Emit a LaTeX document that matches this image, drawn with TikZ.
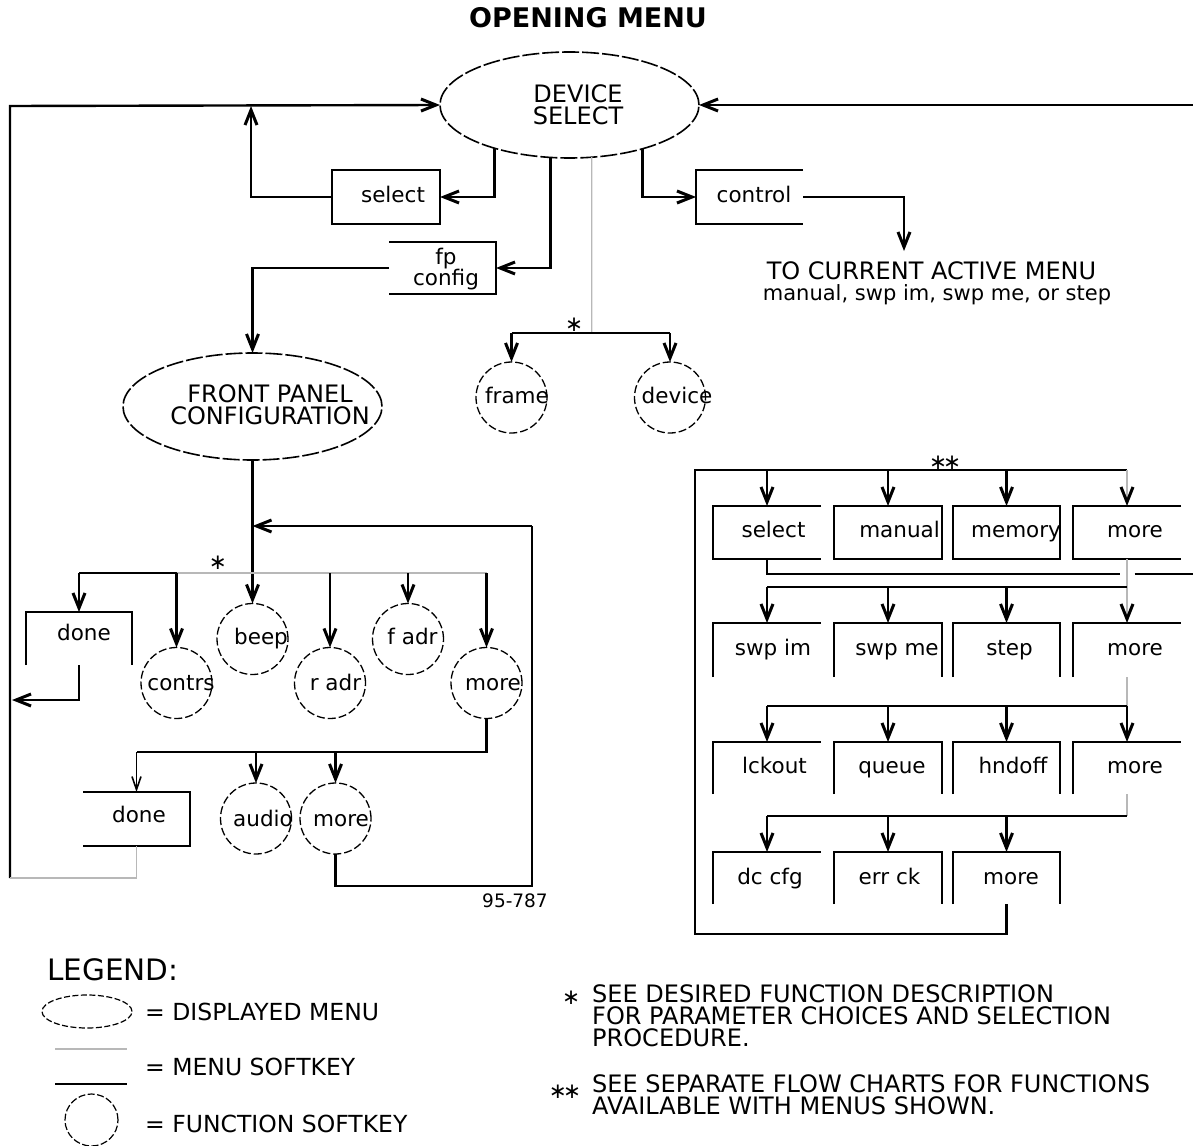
\documentclass[tikz,border=0pt]{standalone}
\usepackage{fontspec}
\setmainfont{DejaVu Sans}
\usetikzlibrary{arrows.meta,shapes.geometric}

% box outlines with some sides left open
\newcommand\edgesF[1]{\draw[ln] (#1.north west) rectangle (#1.south east);}
\newcommand\edgesR[1]{\draw[ln] (#1.north east) -- (#1.north west) -- (#1.south west) -- (#1.south east);}
\newcommand\edgesL[1]{\draw[ln] (#1.north west) -- (#1.north east) -- (#1.south east) -- (#1.south west);}
\newcommand\edgesB[1]{\draw[ln] (#1.south west) -- (#1.north west) -- (#1.north east) -- (#1.south east);}
\newcommand\edgesTL[1]{\draw[ln] (#1.south west) -- (#1.north west) -- (#1.north east);}

\tikzset{
  ln/.style={line width=2.4pt, black},
  gln/.style={line width=1.2pt, black!28},
  arr/.style={ln, -{Straight Barb[length=15pt,width=12pt,line width=3pt]}},
  garr/.style={gln, -{Straight Barb[length=15pt,width=12pt,line width=3pt,color=black]}},
  tarr/.style={line width=1.3pt, black, -{Straight Barb[length=13pt,width=9pt,line width=1.6pt]}},
  menu/.style={ellipse, draw, line width=1.6pt, dash pattern=on 17pt off 3pt, inner sep=0pt, outer sep=0pt},
  fkey/.style={circle, draw, line width=1.3pt, dash pattern=on 8pt off 3pt, minimum size=71pt, inner sep=0pt, outer sep=0pt},
  skey/.style={rectangle, draw=none, inner sep=0pt, outer sep=0pt, minimum width=108pt, minimum height=53pt},
  lbl/.style={font=\fontsize{21.5}{24}\selectfont, inner sep=0pt, anchor=base},
  astx/.style={font=\fontsize{21.5}{24}\selectfont, inner sep=0pt},
  caps/.style={font=\fontsize{24}{22}\selectfont, align=center, inner sep=0pt},
  note/.style={font=\fontsize{24}{22}\selectfont, align=left, inner sep=0pt, anchor=west},
  legtext/.style={font=\fontsize{23.5}{24}\selectfont, inner sep=0pt, anchor=base west},
}

\begin{document}
\begin{tikzpicture}[x=1pt, y=-1pt]
\useasboundingbox (0,0) rectangle (1193,1145);

% ---------- opening menu ----------
\node[font=\fontsize{27}{30}\selectfont\bfseries, inner sep=0pt, anchor=base] (title) at (588,28) {OPENING MENU};

\node[menu, minimum width=259pt, minimum height=106pt] (ds) at (569.5,105) {};
\node[caps] (dsT) at (578,105) {DEVICE\\SELECT};

\node[skey, minimum height=54pt] (sel) at (386,197) {};
\node[lbl] (selT) at (393,202) {select};
\edgesF{sel}

\node[skey, minimum width=107pt, minimum height=52pt] (fp) at (442.5,268) {};
\node[caps, font=\fontsize{21.5}{21.5}\selectfont] (fpT) at (446,269) {fp\\config};
\edgesL{fp}

\node[skey, minimum width=107pt, minimum height=54pt] (ctl) at (749.5,197) {};
\node[lbl] (ctlT) at (754,202) {control};
\edgesR{ctl}

\coordinate (ctlend) at (904,251);
\node[font=\fontsize{24}{26}\selectfont, inner sep=0pt, anchor=base] (tcam) at (931.5,279) {TO CURRENT ACTIVE MENU};
\node[font=\fontsize{21}{24}\selectfont, inner sep=0pt, anchor=base] (tcam2) at (937,300) {manual, swp im, swp me, or step};

\coordinate (lt) at (10,106);
\coordinate (lb) at (10,878);
\coordinate (rt) at (1193,105);
\coordinate (upj) at (251,106);
\coordinate (fstar) at (591.7,333);

\node[fkey] (frame) at (511.5,397.5) {};
\node[lbl] (frameT) at (517,403) {frame};
\node[fkey] (device) at (670,397.5) {};
\node[lbl] (deviceT) at (677,403) {device};
\node[astx] (star1) at (574,325) {∗};

\draw[arr] (lb) -- (lt) -- (ds.west);
\draw[arr] (rt) -- (ds.east);
\draw[arr] (ds.210) |- (sel.east);
\draw[arr] (sel.west) -| (upj);
\draw[arr] (ds.250) |- (fp.east);
\draw[arr] (ds.329) |- (ctl.west);
\draw[arr] (ctl.east) -| (ctlend);
\draw[gln] (ds.293) -- (fstar);
\draw[ln] (frame.north |- fstar) -- (device.north |- fstar);
\draw[arr] (frame.north |- fstar) -- (frame.north);
\draw[arr] (device.north |- fstar) -- (device.north);

% ---------- front panel configuration ----------
\node[menu, minimum width=259pt, minimum height=107pt] (fpc) at (252.5,406.5) {};
\node[caps] (fpcT) at (270,405) {FRONT PANEL\\CONFIGURATION};
\draw[arr] (fp.west) -| (fpc.north);

\coordinate (bus2) at (0,573);
\coordinate (lret) at (12,700);
\coordinate (b3w) at (136.5,752);
\coordinate (rlb) at (532,886);
\coordinate (rlt) at (532,526);

\node[skey, minimum width=106pt] (done1) at (79,638.5) {};
\node[lbl] (done1T) at (84,640) {done};
\edgesB{done1}

\node[fkey] (contrs) at (176.5,683) {};
\node[lbl] (contrsT) at (181,690) {contrs};
\node[fkey] (beep) at (252.5,639) {};
\node[lbl] (beepT) at (261,644) {beep};
\node[fkey] (radr) at (330,683) {};
\node[lbl] (radrT) at (335.5,690) {r adr};
\node[fkey] (fadr) at (408,639) {};
\node[lbl] (fadrT) at (412.5,644) {f adr};
\node[fkey] (more1) at (486.5,683) {};
\node[lbl] (more1T) at (493,690) {more};
\node[astx] (star2) at (218,563) {∗};

\node[skey, minimum width=107pt, minimum height=54pt] (done2) at (136.5,819) {};
\node[lbl] (done2T) at (139,822) {done};
\edgesL{done2}
\node[fkey] (audio) at (256,818.5) {};
\node[lbl] (audioT) at (263,826) {audio};
\node[fkey] (more2) at (335.5,818.5) {};
\node[lbl] (more2T) at (341,826) {more};

\node[font=\fontsize{18.5}{20}\selectfont, inner sep=0pt, anchor=base] (fignum) at (515,907) {95-787};

\draw[arr] (fpc.south) -- (beep.north);
\draw[ln] (more2.south) |- (rlb) -- (rlt);
\draw[arr] (rlt) -- (rlt -| fpc.south);
\draw[ln] (done1.north |- bus2) -- (contrs.north |- bus2);
\draw[gln] (contrs.north |- bus2) -- (more1.north |- bus2);
\draw[arr] (done1.north |- bus2) -- (done1.north);
\draw[arr] (contrs.north |- bus2) -- (contrs.north);
\draw[arr] (radr.north |- bus2) -- (radr.north);
\draw[arr] (fadr.north |- bus2) -- (fadr.north);
\draw[arr] (more1.north |- bus2) -- (more1.north);
\draw[arr] (done1.south) |- (lret);
\draw[ln] (more1.south) |- (b3w);
\draw[tarr] (b3w) -- (done2.north);
\draw[arr] (audio.north |- b3w) -- (audio.north);
\draw[arr] (more2.north |- b3w) -- (more2.north);
\draw[gln] (done2.south) |- (lb);

% ---------- menu chain on the right ----------
\coordinate (gtl) at (695,470);
\coordinate (gbl) at (695,934);
\coordinate (gb2) at (0,587);
\coordinate (gb3) at (0,706);
\coordinate (gb4) at (0,816);
\coordinate (rlA) at (1119.5,574);
\coordinate (rlB) at (1134.5,574);
\coordinate (rlE) at (1193,574);

\node[skey] (g11) at (767,532.5) {};
\node[skey] (g12) at (888,532.5) {};
\node[skey, minimum width=107pt] (g13) at (1006.5,532.5) {};
\node[skey] (g14) at (1127,532.5) {};
\node[lbl] (g11T) at (773.5,537) {select};
\node[lbl] (g12T) at (899.5,537) {manual};
\node[lbl] (g13T) at (1016,537) {memory};
\node[lbl] (g14T) at (1135,537) {more};
\edgesR{g11} \edgesF{g12} \edgesF{g13} \edgesR{g14}

\node[skey, minimum height=54pt] (g21) at (767,650) {};
\node[skey, minimum height=54pt] (g22) at (888,650) {};
\node[skey, minimum width=107pt, minimum height=54pt] (g23) at (1006.5,650) {};
\node[skey, minimum height=54pt] (g24) at (1127,650) {};
\node[lbl] (g21T) at (773,655) {swp im};
\node[lbl] (g22T) at (897,655) {swp me};
\node[lbl] (g23T) at (1009.5,655) {step};
\node[lbl] (g24T) at (1135,655) {more};
\edgesTL{g21} \edgesB{g22} \edgesB{g23} \edgesTL{g24}

\node[skey, minimum height=52pt] (g31) at (767,768) {};
\node[skey, minimum height=52pt] (g32) at (888,768) {};
\node[skey, minimum width=107pt, minimum height=52pt] (g33) at (1006.5,768) {};
\node[skey, minimum height=52pt] (g34) at (1127,768) {};
\node[lbl] (g31T) at (774.5,773) {lckout};
\node[lbl] (g32T) at (892,773) {queue};
\node[lbl] (g33T) at (1013,773) {hndoff};
\node[lbl] (g34T) at (1135,773) {more};
\edgesTL{g31} \edgesB{g32} \edgesB{g33} \edgesTL{g34}

\node[skey, minimum height=52pt] (g41) at (767,878) {};
\node[skey, minimum height=52pt] (g42) at (888,878) {};
\node[skey, minimum width=107pt, minimum height=52pt] (g43) at (1006.5,878) {};
\node[lbl] (g41T) at (770,884) {dc cfg};
\node[lbl] (g42T) at (889.5,884) {err ck};
\node[lbl] (g43T) at (1011,884) {more};
\edgesTL{g41} \edgesB{g42} \edgesB{g43}

\node[astx] (star3) at (945,463) {∗\kern-4pt∗};

\draw[ln] (g43.south) |- (gbl) -- (gtl) -- (g14.north |- gtl);
\draw[arr] (g11.north |- gtl) -- (g11.north);
\draw[arr] (g12.north |- gtl) -- (g12.north);
\draw[arr] (g13.north |- gtl) -- (g13.north);
\draw[garr] (g14.north |- gtl) -- (g14.north);
\draw[ln] (g11.south) |- (rlA);
\draw[ln] (rlB) -- (rlE);

\draw[garr] (g14.south) -- (g24.north);
\draw[ln] (g21.north |- gb2) -- (g24.north |- gb2);
\draw[arr] (g21.north |- gb2) -- (g21.north);
\draw[arr] (g22.north |- gb2) -- (g22.north);
\draw[arr] (g23.north |- gb2) -- (g23.north);

\draw[gln] (g24.south) -- (g24.south |- gb3);
\draw[ln] (g31.north |- gb3) -- (g34.north |- gb3);
\draw[arr] (g31.north |- gb3) -- (g31.north);
\draw[arr] (g32.north |- gb3) -- (g32.north);
\draw[arr] (g33.north |- gb3) -- (g33.north);
\draw[arr] (g34.north |- gb3) -- (g34.north);

\draw[gln] (g34.south) -- (g34.south |- gb4);
\draw[ln] (g41.north |- gb4) -- (g34.north |- gb4);
\draw[arr] (g41.north |- gb4) -- (g41.north);
\draw[arr] (g42.north |- gb4) -- (g42.north);
\draw[arr] (g43.north |- gb4) -- (g43.north);

% ---------- legend ----------
\node[font=\fontsize{29.5}{30}\selectfont, anchor=base west, inner sep=0pt] (leg) at (47,980) {LEGEND:};
\node[ellipse, draw, line width=1.2pt, dash pattern=on 6pt off 2.5pt, minimum width=90pt, minimum height=33pt, inner sep=0pt] (legE) at (87,1011.5) {};
\node[legtext] (legET) at (145,1020) {= DISPLAYED MENU};
\coordinate (lgA) at (55,1049);
\coordinate (lgB) at (127,1049);
\coordinate (lgC) at (55,1084);
\coordinate (lgD) at (127,1084);
\draw[gln] (lgA) -- (lgB);
\draw[ln] (lgC) -- (lgD);
\node[legtext] (legST) at (145,1075) {= MENU SOFTKEY};
\node[ellipse, draw, line width=1.2pt, dash pattern=on 7pt off 2.5pt, minimum width=53pt, minimum height=52pt, inner sep=0pt] (legC) at (91.5,1120) {};
\node[legtext] (legCT) at (145,1132) {= FUNCTION SOFTKEY};

\node[astx] (fn1m) at (571,998) {∗};
\node[note] (fn1) at (592,1016) {SEE DESIRED FUNCTION DESCRIPTION\\FOR PARAMETER CHOICES AND SELECTION\\PROCEDURE.};
\node[astx] (fn2m) at (565,1092) {∗\kern-4pt∗};
\node[note] (fn2) at (592,1095) {SEE SEPARATE FLOW CHARTS FOR FUNCTIONS\\AVAILABLE WITH MENUS SHOWN.};
\end{tikzpicture}
\end{document}
